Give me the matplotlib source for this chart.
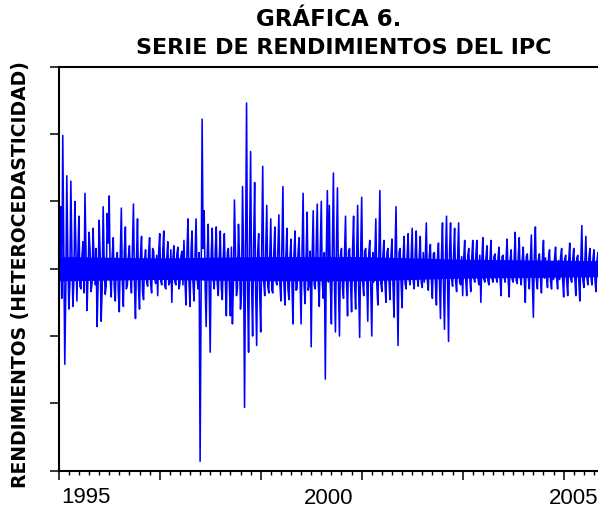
import numpy as np
import matplotlib
matplotlib.use("Agg")
import matplotlib.pyplot as plt
from matplotlib.ticker import MultipleLocator, NullFormatter

# Rendimientos diarios del IPC.
# ret_*: picos visibles, un valor cada 10 observaciones
# fine_*: valores intermedios de la banda central (5 observaciones despues de cada pico)

# 1994-1996
ret_a = [-0.073, 0.046, 0.099, -0.071, 0.069, -0.030, 0.065, -0.028, 0.050, -0.024,
         0.039, -0.015, 0.020, 0.056, -0.031, 0.027, -0.017, 0.030, -0.012, -0.043,
         0.036, -0.039, 0.046, -0.019, 0.041, 0.054, -0.021, 0.023, -0.024, 0.012,
         -0.032, 0.045, -0.028, 0.031, -0.012, 0.017, -0.018, 0.048, -0.037, 0.037,
         -0.030, 0.024, -0.023, 0.014, -0.013, 0.023, -0.018, 0.013, -0.011, -0.020,
         0.026, -0.012, 0.028, -0.015, 0.020, -0.010, -0.025, 0.017, -0.012, 0.016,
         -0.011, 0.013, 0.021, -0.027, 0.037, -0.028, 0.028]
fine_a = [0.018, -0.022, 0.012, -0.015, 0.008, -0.012, 0.014, -0.009, 0.016, 0.011,
          -0.013, 0.009, -0.018, 0.010, -0.006, 0.014, -0.011, 0.007, 0.015, -0.010,
          0.012, -0.016, 0.005, -0.013, 0.019, -0.008, 0.010, -0.014, 0.006, -0.017,
          0.011, -0.010, 0.013, -0.015, 0.009, -0.006, 0.016, -0.012, 0.008, -0.014,
          0.010, -0.017, 0.006, -0.009, 0.012, -0.011, 0.015, -0.007, 0.010, 0.013,
          -0.009, 0.012, -0.013, 0.008, -0.012, 0.014, 0.006, -0.010, 0.011, -0.015,
          0.009, -0.012, -0.008, 0.013, -0.010, 0.012, -0.011]
# 1997-1999
ret_b = [-0.024, 0.037, -0.015, -0.143, 0.111, 0.043, -0.043, 0.033, -0.062, 0.030,
         -0.015, 0.031, -0.020, 0.028, -0.023, 0.026, -0.035, 0.015, -0.035, -0.041,
         0.051, -0.020, 0.033, -0.030, 0.061, -0.103, 0.123, -0.062, 0.087, -0.050,
         0.064, -0.057, 0.026, -0.047, 0.076, -0.020, 0.047, -0.018, 0.037, -0.018,
         0.031, -0.012, 0.040, -0.024, 0.061, -0.027, 0.030, -0.023, 0.022, -0.041,
         0.028, -0.015, 0.023, -0.041, 0.056, -0.026, 0.042, -0.012, -0.058, 0.043,
         -0.015, 0.048, -0.028, 0.050, -0.022, -0.082, 0.058]
fine_b = [0.010, -0.008, 0.012, -0.010, 0.015, -0.012, 0.009, -0.016, 0.011, -0.008,
          0.013, -0.011, 0.008, -0.014, 0.010, -0.009, 0.012, -0.013, 0.016, -0.010,
          0.012, -0.014, 0.009, -0.018, 0.014, 0.006, -0.015, 0.020, -0.012, 0.018,
          -0.016, 0.012, -0.018, 0.014, -0.010, 0.015, -0.013, 0.009, -0.016, 0.012,
          -0.009, 0.014, -0.011, 0.016, -0.012, 0.010, -0.015, 0.008, -0.013, 0.011,
          -0.016, 0.012, -0.009, 0.014, -0.013, 0.010, -0.016, 0.013, 0.011, -0.012,
          0.015, -0.010, 0.014, -0.011, 0.012, 0.013, -0.010]
# 2000-2002
ret_c = [0.047, -0.041, 0.071, -0.047, 0.060, -0.050, 0.015, -0.022, 0.039, -0.035,
         0.015, -0.032, 0.039, -0.030, 0.047, -0.051, 0.053, -0.020, 0.015, -0.039,
         0.021, -0.050, -0.010, 0.037, -0.027, 0.058, -0.017, 0.021, -0.025, 0.015,
         -0.023, 0.022, -0.036, 0.046, -0.057, 0.015, -0.029, 0.024, -0.015, 0.026,
         -0.012, 0.030, -0.015, 0.028, -0.013, 0.024, -0.014, -0.010, 0.034, -0.016,
         0.018, -0.022, 0.012, -0.027, 0.019, -0.037, 0.034, -0.045, 0.039, -0.054,
         0.034, -0.013, 0.030, -0.017, 0.034, -0.012]
fine_c = [-0.012, 0.014, -0.010, 0.016, -0.012, 0.010, -0.014, 0.011, -0.009, 0.013,
          -0.011, 0.015, -0.012, 0.009, -0.014, 0.012, -0.010, 0.013, -0.008, 0.011,
          -0.013, 0.012, 0.008, -0.012, 0.010, -0.011, 0.009, -0.010, 0.012, -0.008,
          0.010, -0.012, 0.011, -0.009, 0.012, -0.010, 0.008, -0.011, 0.009, -0.008,
          0.010, -0.009, 0.011, -0.007, 0.009, -0.010, 0.012, 0.008, -0.009, 0.010,
          -0.008, 0.011, -0.010, 0.007, -0.009, 0.010, -0.012, 0.008, -0.010, 0.012,
          -0.007, 0.010, -0.009, 0.008, -0.010, 0.009]
# 2003-2005
ret_d = [-0.020, 0.021, -0.020, 0.015, -0.017, 0.021, -0.010, 0.021, -0.012, -0.025,
         0.023, -0.010, 0.017, -0.012, 0.021, -0.010, 0.011, -0.010, 0.016, -0.020,
         0.010, -0.010, 0.022, -0.021, 0.014, -0.010, 0.027, -0.011, 0.023, -0.012,
         0.016, -0.025, 0.011, -0.015, 0.025, -0.036, 0.031, -0.015, 0.011, -0.018,
         0.021, 0.008, -0.014, 0.014, -0.015, -0.008, 0.016, -0.015, -0.008, 0.015,
         -0.021, 0.010, -0.020, 0.019, -0.010, 0.015, -0.020, 0.010, -0.024, 0.032,
         -0.014, 0.024, -0.012, 0.015, -0.012, 0.014, -0.017, 0.012]
fine_d = [0.007, -0.008, 0.009, -0.006, 0.008, -0.007, 0.009, -0.006, 0.010, 0.006,
          -0.008, 0.007, -0.009, 0.006, -0.007, 0.009, -0.006, 0.008, -0.007, 0.009,
          -0.006, 0.008, -0.007, 0.006, -0.008, 0.007, -0.009, 0.008, -0.006, 0.007,
          -0.008, 0.009, -0.007, 0.006, -0.009, 0.010, -0.008, 0.007, -0.006, 0.008,
          -0.007, -0.006, 0.008, -0.009, 0.005, 0.008, -0.007, 0.006, 0.009, -0.008,
          0.007, -0.009, 0.006, -0.008, 0.007, -0.006, 0.008, -0.009, 0.007, -0.008,
          0.006, -0.007, 0.008, -0.006, 0.007, -0.008, 0.006, -0.007]

# nucleo solido de la banda (semi-ancho)
core_obs = [0, 500, 1000, 1500, 2000, 2670]
core_half = [0.009, 0.008, 0.009, 0.009, 0.007, 0.006]

obs_step = 5
year_labels = ["1995", "2000", "2005"]
year_obs = [135, 1338, 2550]
year_dy = [-0.063, -0.067, -0.066]

peaks = np.array(ret_a + ret_b + ret_c + ret_d)
fine = np.array(fine_a + fine_b + fine_c + fine_d)
returns = np.empty(peaks.size + fine.size)
returns[0::2] = peaks
returns[1::2] = fine
obs = np.arange(returns.size) * obs_step
core_half = np.array(core_half)

fig = plt.figure(figsize=(5.98, 5.10), dpi=100)
ax = fig.add_axes([0.0982, 0.0751, 0.9018, 0.7922])

ax.fill_between(core_obs, -core_half, core_half, color="#0000ff", linewidth=0)
ax.plot(obs, returns, color="#0000ff", linewidth=1.15)

ax.set_xlim(0, 2670)
ax.set_ylim(-0.15, 0.15)
ax.yaxis.set_major_locator(MultipleLocator(0.05))
ax.yaxis.set_major_formatter(NullFormatter())
ax.xaxis.set_major_locator(MultipleLocator(500))
ax.xaxis.set_minor_locator(MultipleLocator(50))
ax.xaxis.set_major_formatter(NullFormatter())
ax.tick_params(axis="both", which="major", direction="out", length=6.5, width=1.1, color="black")
ax.tick_params(axis="x", which="minor", direction="out", length=3, width=1.0, color="black")

ax.spines["right"].set_visible(False)
for side in ("left", "bottom", "top"):
    ax.spines[side].set_linewidth(1.5)

for lab, xo, dy in zip(year_labels, year_obs, year_dy):
    ax.text(xo, dy, lab, transform=ax.get_xaxis_transform(), ha="center", va="center",
            fontsize=16, family="Liberation Sans", clip_on=False)

fig.text(0.034, 1 - 275 / 510, "RENDIMIENTOS (HETEROCEDASTICIDAD)", rotation=90,
         ha="center", va="center", fontsize=13.5, fontweight="bold", family="DejaVu Sans")

fig.text(329 / 598, 1 - 20 / 510, "GRÁFICA 6.", ha="center", va="center",
         fontsize=16.5, fontweight="bold", family="DejaVu Sans")
fig.text(344 / 598, 1 - 48 / 510, "SERIE DE RENDIMIENTOS DEL IPC", ha="center", va="center",
         fontsize=16, fontweight="bold", family="DejaVu Sans")

fig.savefig("out.png", dpi=100)
